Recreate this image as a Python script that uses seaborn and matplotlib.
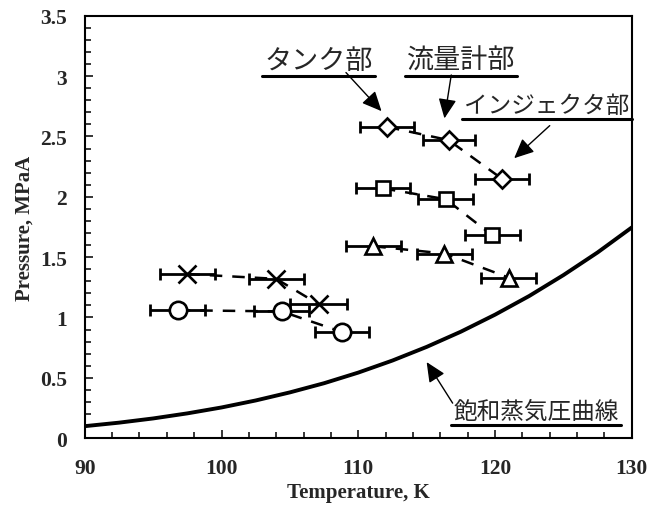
import numpy as np
import pandas as pd
import matplotlib
matplotlib.use("Agg")
import matplotlib.pyplot as plt
from matplotlib.ticker import MultipleLocator, FormatStrFormatter
from matplotlib.lines import Line2D
import seaborn as sns

# measured points: temperature (K), pressure (MPaA), temperature error (K)
tank_T = [112.1, 116.6, 120.5]
tank_P = [2.58, 2.47, 2.15]
tank_err = [2.0, 1.9, 2.0]

sq_T = [111.8, 116.4, 119.8]
sq_P = [2.07, 1.98, 1.68]
sq_err = [2.0, 2.0, 2.0]

tri_T = [111.1, 116.3, 121.0]
tri_P = [1.59, 1.53, 1.33]
tri_err = [2.0, 2.0, 2.0]

x_T = [97.5, 104.0, 107.1]
x_P = [1.36, 1.32, 1.11]
x_err = [2.0, 2.0, 2.1]

circ_T = [96.8, 104.4, 108.8]
circ_P = [1.06, 1.05, 0.88]
circ_err = [2.0, 2.0, 2.0]

# saturation vapour pressure curve
sat_T = [90, 92.5, 95, 97.5, 100, 102.5, 105, 107.5, 110, 112.5, 115,
         117.5, 120, 122.5, 125, 127.5, 130]
sat_P = [0.099, 0.128, 0.163, 0.205, 0.254, 0.312, 0.379, 0.455, 0.543,
         0.643, 0.756, 0.882, 1.023, 1.178, 1.351, 1.539, 1.746]

sns.set_style("ticks")
plt.rcParams['font.family'] = ['Liberation Serif', 'DejaVu Serif']
jp_font = ['Noto Sans CJK JP', 'DejaVu Sans']

fig = plt.figure(figsize=(6.52, 5.10), dpi=100)
ax = fig.add_axes([0.130, 0.139, 0.839, 0.828])

sat = pd.DataFrame({'T': sat_T, 'P': sat_P})
sns.lineplot(data=sat, x='T', y='P', ax=ax, color='black', lw=2.8, zorder=2)

series = [
    (tank_T, tank_P, tank_err, 'D', 9),
    (sq_T, sq_P, sq_err, 's', 10),
    (tri_T, tri_P, tri_err, '^', 11.5),
    (x_T, x_P, x_err, 'x', 12.5),
    (circ_T, circ_P, circ_err, 'o', 12.5),
]
for T, P, err, mk, ms in series:
    df = pd.DataFrame({'T': T, 'P': P})
    ax.errorbar(df['T'], df['P'], xerr=err, fmt='none', ecolor='black',
                elinewidth=2, capsize=4, capthick=2, zorder=2)
    sns.lineplot(data=df, x='T', y='P', ax=ax, color='black', lw=1.8,
                 linestyle=(0, (5, 4)), estimator=None, zorder=3)
    ax.plot(df['T'], df['P'], linestyle='none', marker=mk, ms=ms,
            mfc='white', mec='black', mew=1.9, zorder=4)

ax.set_xlim(90, 130)
ax.set_ylim(0, 3.5)
ax.xaxis.set_major_locator(MultipleLocator(10))
ax.xaxis.set_minor_locator(MultipleLocator(2))
ax.yaxis.set_major_locator(MultipleLocator(0.5))
ax.yaxis.set_minor_locator(MultipleLocator(0.1))
ax.yaxis.set_major_formatter(FormatStrFormatter('%g'))
ax.tick_params(which='both', direction='in', top=False, right=False,
               width=1.3, labelsize=15.5)
ax.tick_params(which='major', length=6)
ax.tick_params(which='minor', length=4)
ax.tick_params(axis='x', which='major', pad=14)
ax.tick_params(axis='y', which='major', pad=13)
for lbl in ax.get_xticklabels() + ax.get_yticklabels():
    lbl.set_fontweight('bold')
for s in ax.spines.values():
    s.set_linewidth(1.5)
    s.set_color('black')

ax.set_xlabel('Temperature, K', fontsize=15, fontweight='bold', labelpad=3)
ax.set_ylabel('Pressure, MPaA', fontsize=15, fontweight='bold', labelpad=4)

# annotations with underline
notes = [
    ('タンク部', (107.1, 3.13), 19.5, (109.1, 3.03), (111.7, 2.71)),
    ('流量計部', (117.5, 3.13), 19.5, (116.8, 3.01), (116.3, 2.65)),
    ('インジェクタ部', (123.8, 2.76), 17, (124.0, 2.59), (121.4, 2.32)),
    ('飽和蒸気圧曲線', (123.0, 0.22), 17, (116.9, 0.29), (115.0, 0.63)),
]
texts = []
for label, pos, size, a0, a1 in notes:
    t = ax.text(pos[0], pos[1], label, family=jp_font, fontsize=size,
                ha='center', va='center', zorder=5)
    texts.append(t)
    ax.annotate('', xy=a1, xytext=a0,
                arrowprops=dict(arrowstyle='-|>,head_length=1.2,head_width=0.55',
                                color='black', lw=1.0, shrinkA=0, shrinkB=0))

fig.canvas.draw()
renderer = fig.canvas.get_renderer()
for t in texts:
    bb = t.get_window_extent(renderer).transformed(fig.transFigure.inverted())
    y = bb.y0 - 0.004
    fig.add_artist(Line2D([bb.x0 - 0.003, bb.x1 + 0.003], [y, y],
                          transform=fig.transFigure, color='black', lw=2.2))

fig.savefig('out.png', dpi=100)
